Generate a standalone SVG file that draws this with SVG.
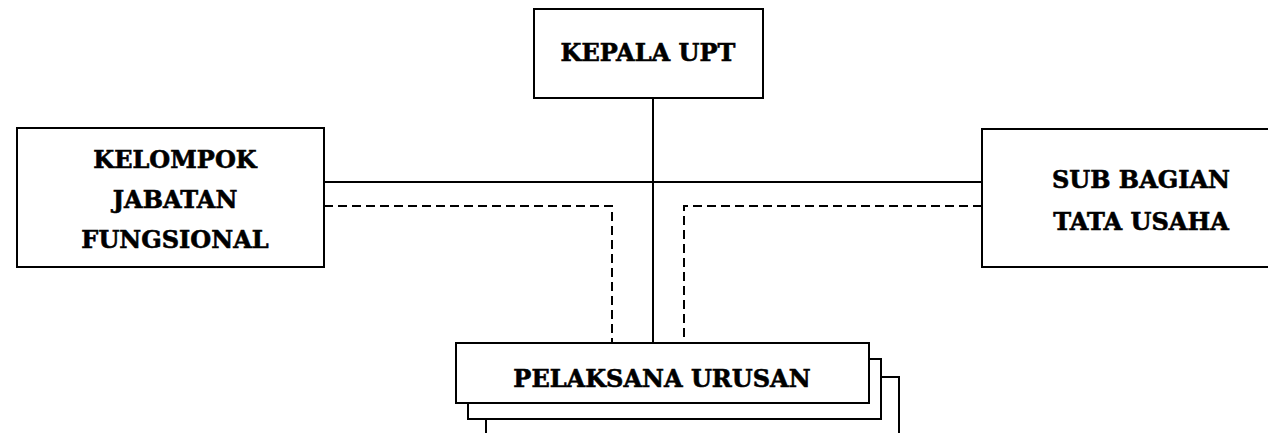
<svg xmlns="http://www.w3.org/2000/svg" width="1268" height="433" viewBox="0 0 1268 433">
<style>
.box{fill:#fff;stroke:#000;stroke-width:2}
.t{font-family:"DejaVu Serif",serif;font-weight:bold;font-size:24px;fill:#000;stroke:#000;stroke-width:0.6;text-anchor:middle}
.s{fill:none;stroke:#000;stroke-width:2}
.d{fill:none;stroke:#000;stroke-width:2;stroke-dasharray:9,5}
</style>
<rect width="1268" height="433" fill="#fff"/>
<g id="connectors">
<line class="s" x1="653" y1="98" x2="653" y2="343"/>
<line class="s" x1="324" y1="182" x2="982" y2="182"/>
<polyline class="d" points="324,206 612,206 612,343"/>
<polyline class="d" points="982,206 684,206 684,343"/>
</g>
<g id="kepala">
<rect class="box" x="534" y="9" width="229" height="89"/>
<text class="t" x="648" y="61">KEPALA UPT</text>
</g>
<g id="kelompok">
<rect class="box" x="17" y="128" width="307" height="139"/>
<text class="t" x="175" y="168">KELOMPOK</text>
<text class="t" x="175" y="208">JABATAN</text>
<text class="t" x="175" y="248">FUNGSIONAL</text>
</g>
<g id="subbagian">
<rect class="box" x="982" y="129" width="300" height="138"/>
<text class="t" x="1141" y="188">SUB BAGIAN</text>
<text class="t" x="1141" y="230">TATA USAHA</text>
</g>
<g id="pelaksana">
<rect class="box" x="486" y="377" width="413" height="80"/>
<rect class="box" x="468" y="359" width="413" height="60"/>
<rect class="box" x="456" y="343" width="413" height="60"/>
<text class="t" x="662" y="387">PELAKSANA URUSAN</text>
</g>
</svg>
